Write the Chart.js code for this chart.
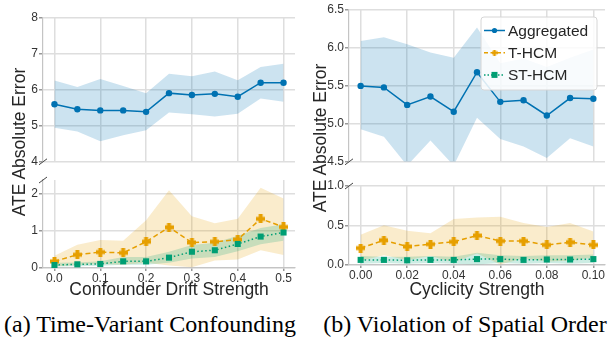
<!DOCTYPE html>
<html>
<head>
<meta charset="utf-8">
<script src="https://cdn.jsdelivr.net/npm/chart.js@4.4.1/dist/chart.umd.min.js"></script>
<style>
  body { margin: 0; background: #fff; }
  #wrap { position: relative; width: 616px; height: 343px; overflow: hidden; background: #fff; }
  canvas { position: absolute; }
  .ytitle {
    position: absolute; width: 220px; height: 22px; line-height: 22px; text-align: center;
    font-family: 'Liberation Sans', Arial, sans-serif; font-size: 17.5px; color: #262626;
    transform: rotate(-90deg); white-space: nowrap;
  }
  .caption {
    position: absolute; width: 320px; height: 30px; line-height: 30px; text-align: center;
    font-family: 'Liberation Serif', 'Times New Roman', serif; font-size: 24px; color: #000;
    white-space: nowrap;
  }
</style>
</head>
<body>
<div id="wrap">
  <canvas id="aTop" width="305" height="170" style="left:0;top:0"></canvas>
  <canvas id="aBottom" width="305" height="131" style="left:0;top:170px"></canvas>
  <canvas id="bTop" width="306" height="170" style="left:310px;top:0"></canvas>
  <canvas id="bBottom" width="306" height="131" style="left:310px;top:170px"></canvas>
  <div class="ytitle" style="left:-91px;top:131px">ATE Absolute Error</div>
  <div class="ytitle" style="left:210px;top:127px">ATE Absolute Error</div>
  <div class="caption" style="left:-10px;top:309px">(a) Time-Variant Confounding</div>
  <div class="caption" style="left:305px;top:309px">(b) Violation of Spatial Order</div>
</div>
<script>
// Series names
const seriesNames = ['Aggregated', 'T-HCM', 'ST-HCM'];

// (a) Confounder drift strength
const xDrift = [0, 0.05, 0.1, 0.15, 0.2, 0.25, 0.3, 0.35, 0.4, 0.45, 0.5];
const xDriftTicks = [0, 0.1, 0.2, 0.3, 0.4, 0.5];
const aggDrift = [5.60, 5.46, 5.43, 5.43, 5.39, 5.91, 5.86, 5.89, 5.81, 6.20, 6.20];
const aggDriftLo = [4.95, 4.84, 4.57, 4.74, 4.88, 5.37, 5.32, 5.26, 5.34, 5.76, 5.67];
const aggDriftHi = [6.26, 6.08, 6.30, 6.11, 5.91, 6.45, 6.38, 6.51, 6.27, 6.64, 6.73];
const thcmDrift = [0.16, 0.34, 0.41, 0.39, 0.69, 1.08, 0.67, 0.69, 0.75, 1.31, 1.09];
const thcmDriftLo = [0.02, 0.06, 0.09, 0.07, 0.12, 0.05, 0.00, 0.18, 0.21, 0.46, 0.33];
const thcmDriftHi = [0.31, 0.61, 0.74, 0.72, 1.27, 2.08, 1.38, 1.19, 1.31, 2.15, 1.86];
const sthcmDrift = [0.06, 0.08, 0.09, 0.16, 0.16, 0.26, 0.42, 0.46, 0.63, 0.83, 0.94];
const sthcmDriftLo = [0.02, 0.03, 0.04, 0.07, 0.07, 0.12, 0.24, 0.28, 0.43, 0.62, 0.72];
const sthcmDriftHi = [0.12, 0.13, 0.16, 0.28, 0.28, 0.42, 0.60, 0.66, 0.85, 1.06, 1.16];
const driftTopTicks = [4, 5, 6, 7, 8];
const driftBottomTicks = [0, 1, 2];

// (b) Cyclicity strength
const xCyc = [0, 0.01, 0.02, 0.03, 0.04, 0.05, 0.06, 0.07, 0.08, 0.09, 0.1];
const xCycTicks = [0, 0.02, 0.04, 0.06, 0.08, 0.1];
const aggCyc = [5.50, 5.48, 5.25, 5.36, 5.16, 5.68, 5.29, 5.31, 5.11, 5.34, 5.33];
const aggCycLo = [4.93, 4.83, 4.45, 4.78, 4.45, 5.08, 4.80, 4.70, 4.55, 4.81, 4.70];
const aggCycHi = [6.09, 6.14, 6.05, 5.94, 5.87, 6.27, 5.80, 5.86, 5.75, 5.87, 5.98];
const thcmCyc = [0.21, 0.31, 0.23, 0.26, 0.29, 0.37, 0.30, 0.30, 0.25, 0.285, 0.25];
const thcmCycLo = [0.05, 0.12, 0.06, 0.11, 0.03, 0.14, 0.00, 0.08, 0.04, 0.05, 0.09];
const thcmCycHi = [0.38, 0.50, 0.43, 0.40, 0.58, 0.60, 0.61, 0.53, 0.48, 0.53, 0.42];
const sthcmCyc = [0.06, 0.06, 0.055, 0.06, 0.06, 0.07, 0.07, 0.06, 0.065, 0.065, 0.07];
const sthcmCycLo = [0.01, 0.02, 0.01, 0.02, 0.01, 0.00, 0.02, 0.01, 0.02, 0.01, 0.02];
const sthcmCycHi = [0.11, 0.10, 0.10, 0.11, 0.10, 0.15, 0.12, 0.11, 0.12, 0.12, 0.13];
const cycTopTicks = [4.5, 5.0, 5.5, 6.0, 6.5];
const cycBottomTicks = [0, 0.5, 1.0];

const BLUE = '#0072B2', ORANGE = '#E69F00', GREEN = '#009E73';
const FONT = "'Liberation Sans', Arial, sans-serif";

// filled plus marker ("P" in matplotlib)
function plusMarker(color, size) {
    const c = document.createElement('canvas');
    c.width = size; c.height = size;
    const g = c.getContext('2d');
    g.fillStyle = color;
    const t = size * 0.44, o = (size - t) / 2;
    g.fillRect(o, 0, t, size);
    g.fillRect(0, o, size, t);
    return c;
}
const plusOrange = plusMarker(ORANGE, 9);

function pts(xs, ys) {
    return xs.map((x, i) => ({ x: x, y: ys[i] }));
}

function bandSets(xs, lo, hi, color, order) {
    return [
        { data: pts(xs, hi), fill: '+1', backgroundColor: color, borderWidth: 0, pointRadius: 0, order: order },
        { data: pts(xs, lo), fill: false, borderWidth: 0, pointRadius: 0, order: order }
    ];
}

function buildDatasets(xs, s) {
    return [
        ...bandSets(xs, s.aggLo, s.aggHi, 'rgba(0,114,178,0.2)', 12),
        ...bandSets(xs, s.thcmLo, s.thcmHi, 'rgba(230,159,0,0.2)', 11),
        ...bandSets(xs, s.sthcmLo, s.sthcmHi, 'rgba(0,158,115,0.2)', 10),
        { label: seriesNames[0], data: pts(xs, s.agg), borderColor: BLUE, backgroundColor: BLUE,
          borderWidth: 1.5, pointRadius: 3.2, pointBorderWidth: 0, fill: false, order: 2 },
        { label: seriesNames[1], data: pts(xs, s.thcm), borderColor: ORANGE, backgroundColor: ORANGE,
          borderWidth: 1.5, borderDash: [5, 3], pointStyle: plusOrange, pointRadius: 4, fill: false, order: 1 },
        { label: seriesNames[2], data: pts(xs, s.sthcm), borderColor: GREEN, backgroundColor: GREEN,
          borderWidth: 1.5, borderDash: [1.5, 2.5], pointStyle: 'rect', pointRadius: 4.3, pointBorderWidth: 0,
          fill: false, order: 0 }
    ];
}

// diagonal break marks on the left spine
const breakMarks = {
    id: 'breakMarks',
    afterDraw(chart, args, opts) {
        if (!opts.edge) return;
        const { ctx, chartArea: a } = chart;
        const y = opts.edge === 'top' ? a.top : a.bottom;
        ctx.save();
        ctx.strokeStyle = '#444';
        ctx.lineWidth = 1;
        ctx.beginPath();
        ctx.moveTo(a.left - 4, y + 3);
        ctx.lineTo(a.left + 4, y - 3);
        ctx.stroke();
        ctx.restore();
    }
};

// framed legend inside the plot area
const boxLegend = {
    id: 'boxLegend',
    afterDraw(chart, args, opts) {
        if (!opts.show) return;
        const { ctx, chartArea: a } = chart;
        const w = 116, h = 73;
        const x = a.right - w - 8, y = a.top + 7;
        ctx.save();
        ctx.beginPath();
        ctx.roundRect(x, y, w, h, 3);
        ctx.fillStyle = 'rgba(255,255,255,0.85)';
        ctx.fill();
        ctx.strokeStyle = '#d6d6d6';
        ctx.lineWidth = 1;
        ctx.stroke();
        const styles = [
            { color: BLUE, dash: [], marker: 'circle' },
            { color: ORANGE, dash: [4, 2.5], marker: 'plus' },
            { color: GREEN, dash: [1.5, 2], marker: 'rect' }
        ];
        seriesNames.forEach((name, i) => {
            const cy = y + 13.5 + i * 22.2;
            const st = styles[i];
            ctx.strokeStyle = st.color;
            ctx.lineWidth = 1.5;
            ctx.setLineDash(st.dash);
            ctx.beginPath();
            ctx.moveTo(x + 3, cy);
            ctx.lineTo(x + 24, cy);
            ctx.stroke();
            ctx.setLineDash([]);
            ctx.fillStyle = st.color;
            if (st.marker === 'circle') {
                ctx.beginPath();
                ctx.arc(x + 13.5, cy, 2.6, 0, Math.PI * 2);
                ctx.fill();
            } else if (st.marker === 'plus') {
                ctx.drawImage(plusMarker(ORANGE, 6), x + 10.5, cy - 3);
            } else {
                ctx.fillRect(x + 10.5, cy - 3, 6, 6);
            }
            ctx.fillStyle = '#262626';
            ctx.font = '15.5px ' + FONT;
            ctx.textBaseline = 'middle';
            ctx.fillText(name, x + 27, cy + 1);
        });
        ctx.restore();
    }
};

function makeChart(id, cfg) {
    const ctx = document.getElementById(id).getContext('2d');
    return new Chart(ctx, {
        type: 'line',
        data: { datasets: cfg.datasets },
        plugins: [breakMarks, boxLegend],
        options: {
            responsive: false,
            animation: false,
            devicePixelRatio: 1,
            layout: { padding: cfg.padding },
            plugins: {
                legend: { display: false },
                tooltip: { enabled: false },
                breakMarks: { edge: cfg.breakEdge },
                boxLegend: { show: !!cfg.legend }
            },
            scales: {
                x: {
                    type: 'linear',
                    min: cfg.xMin,
                    max: cfg.xMax,
                    afterBuildTicks: s => { s.ticks = cfg.xTicks.map(v => ({ value: v })); },
                    afterFit: s => { s.height = cfg.xHeight; },
                    grid: { color: '#dedede', lineWidth: 1.5, drawTicks: cfg.showX, tickLength: 3, tickColor: '#999' },
                    border: { display: cfg.showX, color: '#c4c4c4', width: 1.2 },
                    ticks: {
                        display: cfg.showX,
                        maxRotation: 0,
                        padding: 0,
                        color: '#333',
                        font: { family: FONT, size: 12 },
                        callback: v => v.toFixed(cfg.xDec)
                    },
                    title: {
                        display: cfg.showX,
                        text: cfg.xTitle,
                        color: '#262626',
                        padding: { top: 0, bottom: 0 },
                        font: { family: FONT, size: 17.5 }
                    }
                },
                y: {
                    type: 'linear',
                    min: cfg.yMin,
                    max: cfg.yMax,
                    afterBuildTicks: s => { s.ticks = cfg.yTicks.map(v => ({ value: v })); },
                    afterFit: s => { s.width = cfg.yWidth; },
                    grid: { color: '#dedede', lineWidth: 1.5, tickLength: 4, tickColor: '#999' },
                    border: { color: '#c4c4c4', width: 1.2 },
                    ticks: {
                        padding: 1,
                        color: '#333',
                        font: { family: FONT, size: 12 },
                        callback: v => v.toFixed(cfg.yDec)
                    }
                }
            }
        }
    });
}

const driftSeries = {
    agg: aggDrift, aggLo: aggDriftLo, aggHi: aggDriftHi,
    thcm: thcmDrift, thcmLo: thcmDriftLo, thcmHi: thcmDriftHi,
    sthcm: sthcmDrift, sthcmLo: sthcmDriftLo, sthcmHi: sthcmDriftHi
};
const cycSeries = {
    agg: aggCyc, aggLo: aggCycLo, aggHi: aggCycHi,
    thcm: thcmCyc, thcmLo: thcmCycLo, thcmHi: thcmCycHi,
    sthcm: sthcmCyc, sthcmLo: sthcmCycLo, sthcmHi: sthcmCycHi
};

makeChart('aTop', {
    datasets: buildDatasets(xDrift, driftSeries),
    padding: { top: 18, right: 10, bottom: 5, left: 0 },
    xMin: -0.025, xMax: 0.525, xTicks: xDriftTicks, xDec: 1, xHeight: 0, showX: false,
    yMin: 4, yMax: 8, yTicks: driftTopTicks, yDec: 0, yWidth: 43,
    breakEdge: 'bottom'
});
makeChart('aBottom', {
    datasets: buildDatasets(xDrift, driftSeries),
    padding: { top: 10, right: 10, bottom: 0, left: 0 },
    xMin: -0.025, xMax: 0.525, xTicks: xDriftTicks, xDec: 1, xHeight: 33, showX: true,
    xTitle: 'Confounder Drift Strength',
    yMin: -0.02, yMax: 2.36, yTicks: driftBottomTicks, yDec: 0, yWidth: 43,
    breakEdge: 'top'
});
makeChart('bTop', {
    datasets: buildDatasets(xCyc, cycSeries),
    padding: { top: 10, right: 11, bottom: 5, left: 0 },
    xMin: -0.005, xMax: 0.105, xTicks: xCycTicks, xDec: 2, xHeight: 0, showX: false,
    yMin: 4.5, yMax: 6.5, yTicks: cycTopTicks, yDec: 1, yWidth: 39,
    breakEdge: 'bottom', legend: true
});
makeChart('bBottom', {
    datasets: buildDatasets(xCyc, cycSeries),
    padding: { top: 16, right: 11, bottom: 0, left: 0 },
    xMin: -0.005, xMax: 0.105, xTicks: xCycTicks, xDec: 2, xHeight: 36, showX: true,
    xTitle: 'Cyclicity Strength',
    yMin: -0.005, yMax: 1.0, yTicks: cycBottomTicks, yDec: 1, yWidth: 39,
    breakEdge: 'top'
});
</script>
</body>
</html>
